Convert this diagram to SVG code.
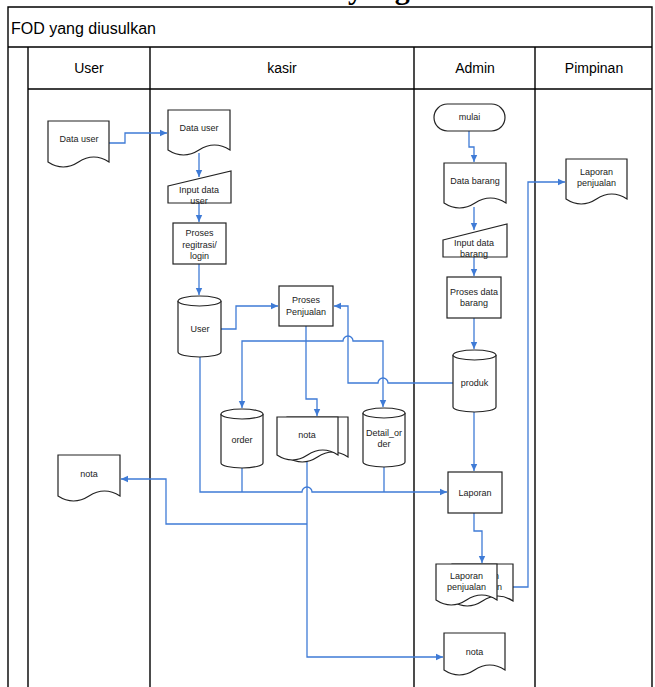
<svg xmlns="http://www.w3.org/2000/svg" width="655" height="687" viewBox="0 0 655 687">
<style>
.frame{fill:none;stroke:#000;stroke-width:1.4}
.title{font-family:"Liberation Sans",Arial,sans-serif;font-size:16px;fill:#000}
.head{font-family:"Liberation Sans",Arial,sans-serif;font-size:14px;fill:#000;text-anchor:middle}
.shape{fill:#fff;stroke:#222;stroke-width:1.2}
.lbl{font-family:"Liberation Sans",Arial,sans-serif;font-size:9px;fill:#222;text-anchor:middle}
.con{fill:none;stroke:#3f7bd6;stroke-width:1.3}
.big{font-family:"Liberation Serif","Times New Roman",serif;font-size:30px;font-weight:bold;fill:#000}
</style>
<defs>
<marker id="arr" markerWidth="8" markerHeight="8" refX="7" refY="4" orient="auto" markerUnits="userSpaceOnUse">
<path d="M0,0.8 L7,4 L0,7.2 Z" fill="#3f7bd6"/>
</marker>
</defs>
<rect width="655" height="687" fill="#fff"/>
<text class="big" x="348" y="-1">yang</text>

<g id="pool">
<path class="frame" d="M8,687 V7 H652 V687 M8,47 H652 M28,47 V687 M28,89 H652 M150,47 V687 M414,47 V687 M535,47 V687"/>
<text class="title" x="11" y="34">FOD yang diusulkan</text>
<text class="head" x="89" y="73">User</text>
<text class="head" x="282" y="73">kasir</text>
<text class="head" x="475" y="73">Admin</text>
<text class="head" x="594" y="73">Pimpinan</text>
</g>

<g id="connectors">
<path class="con" d="M109,143 H125 V133 H167" marker-end="url(#arr)"/>
<path class="con" d="M199,153 V177" marker-end="url(#arr)"/>
<path class="con" d="M199,203 V222" marker-end="url(#arr)"/>
<path class="con" d="M199,264 V295" marker-end="url(#arr)"/>
<path class="con" d="M221,329 H236 V306 H278" marker-end="url(#arr)"/>
<path class="con" d="M306,326 V399 H317 V416" marker-end="url(#arr)"/>
<path class="con" d="M306,341 H242 V408" marker-end="url(#arr)"/>
<path class="con" d="M306,341 H343 a5,5 0 0 1 10,0 H383 V407" marker-end="url(#arr)"/>
<path class="con" d="M453,383 H388 a5,5 0 0 0 -10,0 H348 V306 H334" marker-end="url(#arr)"/>
<path class="con" d="M200,357 V492 H302 a5,5 0 0 1 10,0 H447" marker-end="url(#arr)"/>
<path class="con" d="M242,468 V492 M384,467 V492"/>
<path class="con" d="M307,459 V657 H443" marker-end="url(#arr)"/>
<path class="con" d="M307,524 H166 V479 H121" marker-end="url(#arr)"/>
<path class="con" d="M469,131 V147 H474 V162" marker-end="url(#arr)"/>
<path class="con" d="M474,207 V230" marker-end="url(#arr)"/>
<path class="con" d="M474,257 V276" marker-end="url(#arr)"/>
<path class="con" d="M474,318 V349" marker-end="url(#arr)"/>
<path class="con" d="M474,412 V471" marker-end="url(#arr)"/>
<path class="con" d="M474,513 V531 H482 V563" marker-end="url(#arr)"/>
<path class="con" d="M513,587 H528 V182 H565" marker-end="url(#arr)"/>
</g>

<g id="user-datauser">
<path class="shape" d="M48,121 H109 V162 Q93.75,152 78.5,162 Q63.25,172 48,162 Z"/>
<text class="lbl" x="79" y="142">Data user</text>
</g>
<g id="user-nota">
<path class="shape" d="M58,455 H120 V496 Q104.5,486 89,496 Q73.5,506 58,496 Z"/>
<text class="lbl" x="89" y="477">nota</text>
</g>

<g id="kasir-datauser">
<path class="shape" d="M168,110 H230 V150 Q214.5,140 199,150 Q183.5,160 168,150 Z"/>
<text class="lbl" x="199" y="131">Data user</text>
</g>
<g id="kasir-input">
<path class="shape" d="M168,186 L231,171 V203 H168 Z"/>
<text class="lbl" x="199" y="193">Input data</text>
<text class="lbl" x="199" y="204">user</text>
</g>
<g id="kasir-registrasi">
<rect class="shape" x="173" y="223" width="53" height="41"/>
<text class="lbl" x="199.5" y="236">Proses</text>
<text class="lbl" x="199.5" y="248">regitrasi/</text>
<text class="lbl" x="199.5" y="259">login</text>
</g>
<g id="kasir-user-db">
<path class="shape" d="M178,301 A21.5,5 0 0 1 221,301 V352 A21.5,5 0 0 1 178,352 Z"/>
<path class="shape" d="M178,301 A21.5,5 0 0 0 221,301" fill="none"/>
<text class="lbl" x="200" y="332">User</text>
</g>
<g id="kasir-penjualan">
<rect class="shape" x="279" y="286" width="54" height="40"/>
<text class="lbl" x="306" y="303">Proses</text>
<text class="lbl" x="306" y="315">Penjualan</text>
</g>
<g id="kasir-order">
<path class="shape" d="M221,414 A21,5 0 0 1 263,414 V463 A21,5 0 0 1 221,463 Z"/>
<path class="shape" d="M221,414 A21,5 0 0 0 263,414" fill="none"/>
<text class="lbl" x="242" y="443">order</text>
</g>
<g id="kasir-nota">
<path class="shape" d="M287,417 H348 V457 Q332.75,447 317.5,457 Q302.25,467 287,457 Z"/>
<path class="shape" d="M277,417 H338 V455 Q322.75,445 307.5,455 Q292.25,465 277,455 Z"/>
<text class="lbl" x="307" y="438">nota</text>
</g>
<g id="kasir-detail">
<path class="shape" d="M363,413 A21,5 0 0 1 405,413 V462 A21,5 0 0 1 363,462 Z"/>
<path class="shape" d="M363,413 A21,5 0 0 0 405,413" fill="none"/>
<text class="lbl" x="384" y="436">Detail_or</text>
<text class="lbl" x="384" y="447">der</text>
</g>

<g id="admin-mulai">
<rect class="shape" x="434" y="104" width="71" height="27" rx="13.5"/>
<text class="lbl" x="469.5" y="120">mulai</text>
</g>
<g id="admin-databarang">
<path class="shape" d="M444,163 H506 V203 Q490.5,193 475,203 Q459.5,213 444,203 Z"/>
<text class="lbl" x="475" y="184">Data barang</text>
</g>
<g id="admin-input">
<path class="shape" d="M443,240 L507,224 V257 H443 Z"/>
<text class="lbl" x="474" y="246">Input data</text>
<text class="lbl" x="474" y="257">barang</text>
</g>
<g id="admin-prosesbarang">
<rect class="shape" x="447" y="277" width="54" height="41"/>
<text class="lbl" x="474" y="295">Proses data</text>
<text class="lbl" x="474" y="306">barang</text>
</g>
<g id="admin-produk">
<path class="shape" d="M453,355 A21.5,5 0 0 1 496,355 V407 A21.5,5 0 0 1 453,407 Z"/>
<path class="shape" d="M453,355 A21.5,5 0 0 0 496,355" fill="none"/>
<text class="lbl" x="474.5" y="386">produk</text>
</g>
<g id="admin-laporan">
<rect class="shape" x="448" y="472" width="54" height="41"/>
<text class="lbl" x="475" y="496">Laporan</text>
</g>
<g id="admin-laporanpenjualan">
<path class="shape" d="M452,564 H513 V601 Q497.75,591 482.5,601 Q467.25,611 452,601 Z"/>
<text class="lbl" x="482.5" y="579">Laporan</text>
<text class="lbl" x="482.5" y="590">penjualan</text>
<path class="shape" d="M436,564 H497 V600 Q481.75,590 466.5,600 Q451.25,610 436,600 Z"/>
<text class="lbl" x="466.5" y="579">Laporan</text>
<text class="lbl" x="466.5" y="590">penjualan</text>
</g>
<g id="admin-nota">
<path class="shape" d="M444,633 H505 V670 Q489.75,660 474.5,670 Q459.25,680 444,670 Z"/>
<text class="lbl" x="474.5" y="655">nota</text>
</g>

<g id="pimpinan-laporan">
<path class="shape" d="M566,159 H627 V199 Q611.75,189 596.5,199 Q581.25,209 566,199 Z"/>
<text class="lbl" x="596.5" y="175">Laporan</text>
<text class="lbl" x="596.5" y="186">penjualan</text>
</g>
</svg>
